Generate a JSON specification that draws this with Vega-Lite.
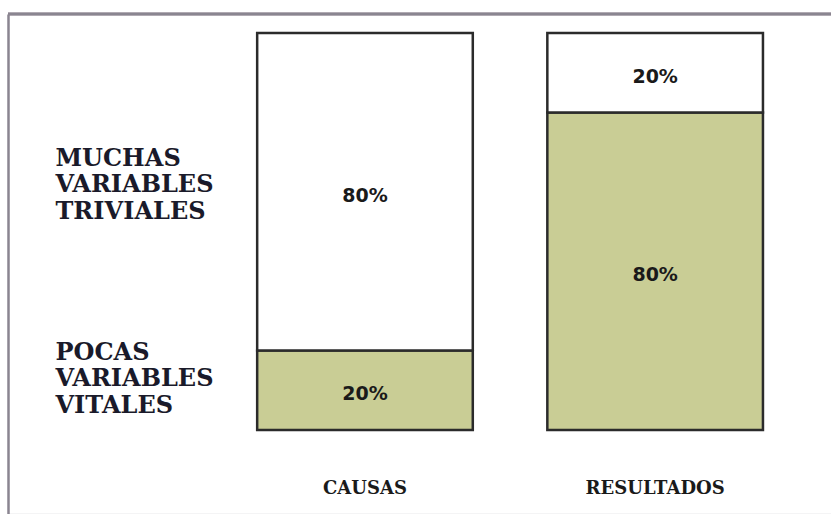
{
  "$schema": "https://vega.github.io/schema/vega-lite/v6.json",
  "width": 823,
  "height": 500,
  "autosize": {"type": "none"},
  "padding": {"left": 8, "top": 14, "right": 0, "bottom": 0},
  "background": "white",
  "config": {
    "view": {"stroke": null},
    "axis": {"grid": false, "domain": false, "ticks": false, "tickSize": 0, "title": null}
  },
  "data": {
    "values": [
      {"categoria": "CAUSAS", "grupo": "Pocas variables vitales", "orden": 1, "valor": 20, "etiqueta": "20%"},
      {"categoria": "CAUSAS", "grupo": "Muchas variables triviales", "orden": 2, "valor": 80, "etiqueta": "80%"},
      {"categoria": "RESULTADOS", "grupo": "Pocas variables vitales", "orden": 1, "valor": 80, "etiqueta": "80%"},
      {"categoria": "RESULTADOS", "grupo": "Muchas variables triviales", "orden": 2, "valor": 20, "etiqueta": "20%"}
    ]
  },
  "layer": [
    {
      "mark": {"type": "bar", "stroke": "#2b2b2b", "strokeWidth": 2.5},
      "encoding": {
        "x": {
          "field": "categoria",
          "type": "nominal",
          "sort": ["CAUSAS", "RESULTADOS"],
          "scale": {"paddingInner": 0.2569, "paddingOuter": 0.5466, "align": 0.7855},
          "axis": {
            "orient": "bottom",
            "labelAngle": 0,
            "labelPadding": -26,
            "labelBaseline": "middle",
            "labelFont": "DejaVu Serif",
            "labelFontWeight": "bold",
            "labelFontSize": 18,
            "labelColor": "#1a1a1a",
            "labelOverlap": false,
            "domain": true,
            "domainColor": "#d4d2d8",
            "domainWidth": 1.5
          }
        },
        "order": {"field": "orden", "type": "quantitative"},
        "y": {
          "field": "valor",
          "type": "quantitative",
          "stack": "zero",
          "scale": {"domain": [-21.16, 104.79], "nice": false, "zero": false},
          "axis": {
            "values": [68.5, 19.6],
            "labelExpr": "datum.value > 50 ? ['MUCHAS','VARIABLES','TRIVIALES'] : ['POCAS','VARIABLES','VITALES']",
            "labelAlign": "left",
            "labelPadding": -47,
            "labelBaseline": "middle",
            "labelLineHeight": 26.5,
            "labelFont": "DejaVu Serif",
            "labelFontWeight": "bold",
            "labelFontSize": 24,
            "labelColor": "#1a1a2a",
            "labelLimit": 0,
            "labelOverlap": false,
            "labelFlush": false,
            "domain": true,
            "domainColor": "#8a8590",
            "domainWidth": 2.5
          }
        },
        "color": {
          "field": "grupo",
          "type": "nominal",
          "scale": {"domain": ["Pocas variables vitales", "Muchas variables triviales"], "range": ["#c9cd95", "#ffffff"]},
          "legend": null
        }
      }
    },
    {
      "mark": {"type": "text", "font": "DejaVu Sans", "fontWeight": "bold", "fontSize": 19, "color": "#1a1a1a", "dy": 4},
      "encoding": {
        "x": {
          "field": "categoria",
          "type": "nominal",
          "sort": ["CAUSAS", "RESULTADOS"],
          "scale": {"paddingInner": 0.2569, "paddingOuter": 0.5466, "align": 0.7855},
          "axis": {
            "orient": "bottom",
            "labelAngle": 0,
            "labelPadding": -26,
            "labelBaseline": "middle",
            "labelFont": "DejaVu Serif",
            "labelFontWeight": "bold",
            "labelFontSize": 18,
            "labelColor": "#1a1a1a",
            "labelOverlap": false,
            "domain": true,
            "domainColor": "#d4d2d8",
            "domainWidth": 1.5
          }
        },
        "order": {"field": "orden", "type": "quantitative"},
        "y": {
          "field": "valor",
          "type": "quantitative",
          "stack": "zero",
          "bandPosition": 0.5,
          "scale": {"domain": [-21.16, 104.79], "nice": false, "zero": false},
          "axis": {
            "values": [68.5, 19.6],
            "labelExpr": "datum.value > 50 ? ['MUCHAS','VARIABLES','TRIVIALES'] : ['POCAS','VARIABLES','VITALES']",
            "labelAlign": "left",
            "labelPadding": -47,
            "labelBaseline": "middle",
            "labelLineHeight": 26.5,
            "labelFont": "DejaVu Serif",
            "labelFontWeight": "bold",
            "labelFontSize": 24,
            "labelColor": "#1a1a2a",
            "labelLimit": 0,
            "labelOverlap": false,
            "labelFlush": false,
            "domain": true,
            "domainColor": "#8a8590",
            "domainWidth": 2.5
          }
        },
        "detail": {"field": "grupo"},
        "text": {"field": "etiqueta"}
      }
    },
    {
      "mark": {"type": "rule", "color": "#8a8590", "strokeWidth": 2.5},
      "encoding": {
        "y": {"datum": 104.79}
      }
    }
  ]
}
